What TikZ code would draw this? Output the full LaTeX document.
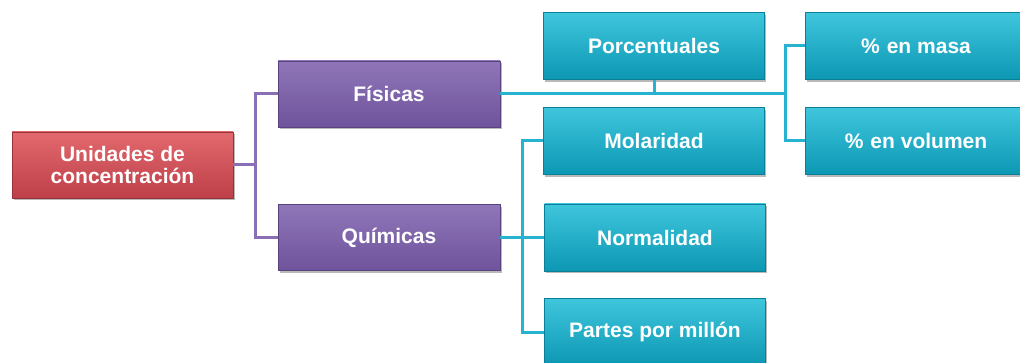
\documentclass[tikz,border=0pt]{standalone}
\usepackage{fontspec}
\setmainfont{Liberation Sans}
\usepackage{tikz}
\usetikzlibrary{shadows,calc}
\definecolor{rojotop}{HTML}{E2696E}
\definecolor{rojobot}{HTML}{BE3F48}
\definecolor{moradotop}{HTML}{8F76B8}
\definecolor{moradobot}{HTML}{6F539C}
\definecolor{cianotop}{HTML}{3FC6DD}
\definecolor{cianomid}{HTML}{14B5D0}
\definecolor{cianobot}{HTML}{0C97B3}
\definecolor{lineamorada}{HTML}{8A6FB5}
\definecolor{lineaciano}{HTML}{27B3CF}

\begin{document}
\begin{tikzpicture}[x=1pt,y=-1pt,
  caja/.style={rectangle,minimum height=66pt,text=white,align=center,
    font=\fontsize{21}{22}\selectfont\bfseries,inner sep=0pt,
    drop shadow={opacity=0.55,shadow xshift=1.5pt,shadow yshift=-2.5pt}},
  cajaroja/.style={caja,minimum width=221pt,draw=rojobot!80!black,line width=0.6pt,
    top color=rojotop,bottom color=rojobot},
  cajamorada/.style={caja,minimum width=222pt,draw=moradobot!80!black,line width=0.6pt,
    top color=moradotop,bottom color=moradobot},
  cajaciano/.style={caja,minimum width=221pt,minimum height=67pt,draw=cianobot!85!black,line width=0.6pt,
    top color=cianotop,middle color=cianomid,bottom color=cianobot},
  unionmorada/.style={draw=lineamorada,line width=3pt},
  unionciano/.style={draw=lineaciano,line width=3pt}]
\useasboundingbox (0,0) rectangle (1020,363);
% nodos
\node[cajaroja] (uni) at (122.5,165) {Unidades de\\concentración};
\node[cajamorada] (fis) at (389,94) {Físicas};
\node[cajamorada] (qui) at (389,237.5) {Químicas};
\node[cajaciano] (por) at (654,46) {Porcentuales};
\node[cajaciano] (mol) at (654,141) {Molaridad};
\node[cajaciano] (nor) at (655,237.5) {Normalidad};
\node[cajaciano] (ppm) at (655,332) {Partes por millón};
\node[cajaciano] (mas) at (916,46) {\%\hspace{7pt}en masa};
\node[cajaciano] (vol) at (916,141) {\%\hspace{7pt}en volumen};
% uniones
\coordinate (j1) at (255,165);
\coordinate (j2) at (785,94);
\coordinate (j3) at (522,237.5);
\draw[unionmorada] (uni.east) -- (j1);
\draw[unionmorada] (fis.west) -| (j1) |- (qui.west);
\draw[unionciano] (fis.east) -- (j2);
\draw[unionciano] (por.south) -- (por.south |- j2);
\draw[unionciano] (mas.west) -| (j2) |- (vol.west);
\draw[unionciano] (qui.east) -- (j3) -- (nor.west);
\draw[unionciano] (mol.west) -| (j3) |- (ppm.west);
\end{tikzpicture}
\end{document}
